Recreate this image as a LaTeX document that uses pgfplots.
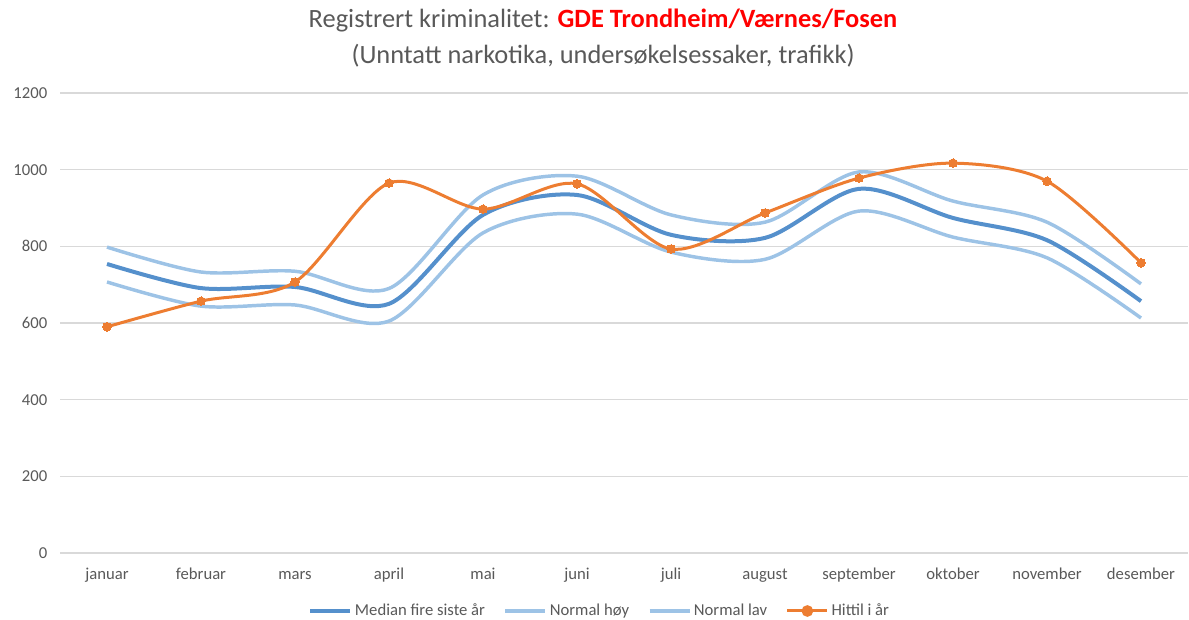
\documentclass[border=0pt]{standalone}
\usepackage{pgfplots}
\pgfplotsset{compat=1.18}
\usepackage{fontspec}
\setmainfont{Carlito}
\definecolor{medianblue}{HTML}{5590CC}
\definecolor{normalblue}{HTML}{9DC3E6}
\definecolor{hittil}{HTML}{ED7D31}
\definecolor{txtgray}{HTML}{595959}
\definecolor{gridgray}{HTML}{D9D9D9}

\begin{document}
\begin{tikzpicture}
  % fixed page: 1189x620 px at 0.75pt/px, axis lower left at origin
  \useasboundingbox (-45pt,-50.25pt) rectangle (846.75pt,414.75pt);
  \begin{axis}[
      scale only axis,
      width=846pt, height=345pt,
      at={(0,0)}, anchor=south west,
      xmin=-0.5, xmax=11.5,
      ymin=0, ymax=1200,
      ytick={0,200,...,1200},
      xtick={0,...,11},
      xticklabels={januar,februar,mars,april,mai,juni,juli,august,september,oktober,november,desember},
      axis line style={draw=none},
      major tick length=0pt,
      ymajorgrids,
      grid style={gridgray, line width=0.9pt},
      tick label style={font=\fontsize{12.5}{15}\selectfont, text=txtgray},
      yticklabel style={xshift=-6pt},
      xticklabel style={anchor=base, yshift=-20.25pt},
      /pgf/number format/assume math mode=true,
      /pgf/number format/1000 sep={},
      legend columns=4,
      legend style={draw=none, font=\fontsize{12.5}{15}\selectfont, text=txtgray,
        at={(405pt,-43.5pt)}, anchor=center,
        /tikz/every even column/.append style={column sep=12pt}},
      legend image code/.code={
        \draw[#1] (0pt,0pt) -- (30pt,0pt);
      },
    ]
    \addplot[medianblue, line width=3pt, smooth, no marks] coordinates {
      (0,754) (1,691) (2,694) (3,650) (4,882) (5,934)
      (6,830) (7,822) (8,950) (9,874) (10,816) (11,657)
    };
    \addlegendentry{Median fire siste år}
    \addplot[normalblue, line width=2.6pt, smooth, no marks] coordinates {
      (0,798) (1,733) (2,735) (3,690) (4,934) (5,983)
      (6,882) (7,863) (8,994) (9,918) (10,863) (11,702)
    };
    \addlegendentry{Normal høy}
    \addplot[normalblue, line width=2.6pt, smooth, no marks] coordinates {
      (0,707) (1,644) (2,647) (3,605) (4,835) (5,884)
      (6,785) (7,766) (8,892) (9,824) (10,770) (11,613)
    };
    \addlegendentry{Normal lav}
    \addplot[hittil, line width=2.25pt, smooth, mark=*, mark size=3.2pt,
      mark options={fill=hittil, draw=hittil, line width=0pt},
      legend image code/.code={
        \draw[hittil, line width=2.25pt] (0pt,0pt) -- (30pt,0pt);
        \fill[hittil] (15pt,0pt) circle (3.2pt);
      }] coordinates {
      (0,590) (1,657) (2,707) (3,965) (4,897) (5,963)
      (6,793) (7,887) (8,978) (9,1017) (10,970) (11,757)
    };
    \addlegendentry{Hittil i år}
  \end{axis}
  \node[anchor=base, font=\fontsize{19.8}{23}\selectfont, text=txtgray] at (407.25pt,393.75pt)
    {Registrert kriminalitet: \textcolor{red}{\bfseries GDE Trondheim/Værnes/Fosen}};
  \node[anchor=base, font=\fontsize{19.8}{23}\selectfont, text=txtgray] at (407.25pt,367pt)
    {(Unntatt narkotika, undersøkelsessaker, trafikk)};
\end{tikzpicture}
\end{document}
